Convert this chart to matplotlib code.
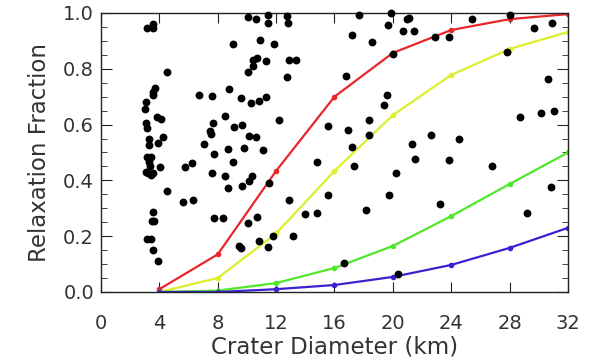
import matplotlib
matplotlib.use("Agg")
import matplotlib.pyplot as plt
from matplotlib.ticker import MultipleLocator

# model curves, sampled every 4 km
diam = [4, 8, 12, 16, 20, 24, 28, 32]
red_frac = [0.01, 0.135, 0.434, 0.70, 0.857, 0.939, 0.978, 0.996]
yellow_frac = [0.0, 0.05, 0.21, 0.434, 0.634, 0.778, 0.871, 0.932]
green_frac = [0.0, 0.005, 0.032, 0.086, 0.165, 0.272, 0.387, 0.50]
blue_frac = [0.0, 0.0, 0.01, 0.025, 0.054, 0.097, 0.158, 0.23]

# observed craters
obs_d = [3.15, 3.56, 3.56, 4.52, 3.70, 3.56, 3.56, 3.08, 3.02, 3.84, 4.11, 3.08,
         3.15, 4.25, 3.29, 3.29, 3.91, 6.72, 7.61, 7.68, 7.47, 7.54, 7.06, 7.75,
         3.15, 3.43, 3.29, 3.36, 4.04, 3.08, 3.22, 3.43, 3.56, 5.76, 6.24, 7.61,
         4.52, 5.62, 6.31, 3.56, 3.50, 3.63, 7.75, 3.15, 3.43, 3.56, 3.91,
         10.08, 10.62, 11.45, 11.45, 12.75, 12.82, 9.05, 10.90, 11.86, 10.42,
         10.69, 10.42, 11.31, 10.08, 12.89, 13.37, 12.75, 8.77, 9.60, 10.28,
         10.83, 11.31, 8.50, 9.12, 9.66, 12.20, 10.14, 10.62, 8.70, 9.80, 11.10,
         15.56, 9.05, 8.50, 8.70, 9.66, 10.14, 10.35, 11.51, 14.80, 12.89, 15.56,
         8.36, 10.08, 10.69, 13.98, 14.80, 10.83, 11.79, 13.16, 9.46, 9.60, 11.45,
         17.68, 19.88, 20.97, 21.11, 19.67, 20.70, 21.45, 17.20, 18.57, 22.89,
         23.85, 20.01, 16.79, 19.60, 19.40, 16.93, 18.37, 18.37, 17.20, 21.32,
         22.62, 21.52, 23.85, 17.34, 20.22, 19.74, 23.24, 18.16, 16.66, 20.36,
         25.43, 28.03, 29.68, 30.91, 27.83, 30.64, 28.72, 30.16, 31.05, 24.54,
         26.80, 30.84, 29.20]
obs_f = [0.946, 0.961, 0.946, 0.789, 0.731, 0.717, 0.706, 0.681, 0.656, 0.627, 0.620, 0.606,
         0.588, 0.556, 0.548, 0.527, 0.534, 0.706, 0.703, 0.606, 0.577, 0.566, 0.530, 0.495,
         0.484, 0.484, 0.466, 0.452, 0.448, 0.430, 0.427, 0.419, 0.427, 0.448, 0.462, 0.427,
         0.362, 0.323, 0.330, 0.287, 0.254, 0.254, 0.265, 0.190, 0.190, 0.151, 0.111,
         0.986, 0.978, 0.993, 0.964, 0.989, 0.964, 0.889, 0.903, 0.889, 0.832,
         0.839, 0.810, 0.828, 0.789, 0.832, 0.832, 0.771, 0.728, 0.695, 0.677,
         0.685, 0.699, 0.631, 0.591, 0.599, 0.616, 0.559, 0.556, 0.513, 0.516, 0.509,
         0.595, 0.466, 0.416, 0.373, 0.380, 0.398, 0.416, 0.391, 0.466, 0.330, 0.348,
         0.265, 0.247, 0.269, 0.280, 0.283, 0.183, 0.201, 0.201, 0.165, 0.158, 0.161,
         0.993, 1.0, 0.978, 0.982, 0.957, 0.935, 0.935, 0.921, 0.896, 0.914,
         0.914, 0.853, 0.774, 0.706, 0.670, 0.581, 0.616, 0.563, 0.520, 0.530,
         0.563, 0.477, 0.473, 0.452, 0.427, 0.348, 0.315, 0.294, 0.104, 0.065,
         0.978, 0.993, 0.946, 0.964, 0.860, 0.763, 0.627, 0.642, 0.649, 0.548,
         0.452, 0.376, 0.283]

txt = "#333333"
fig = plt.figure(figsize=(5.89, 3.62), dpi=100)
ax = fig.add_axes([0.1715, 0.1934, 0.7928, 0.7707])

ax.scatter(obs_d, obs_f, s=32, color="black", zorder=3, clip_on=False, linewidths=0)

ax.plot(diam, red_frac, color="#e8262a", lw=1.6, marker="o", ms=3, zorder=2)
ax.plot(diam, yellow_frac, color="#dcef2a", lw=1.6, marker="o", ms=3, zorder=2)
ax.plot(diam, green_frac, color="#4fe82a", lw=1.6, marker="o", ms=3, zorder=2)
ax.plot(diam, blue_frac, color="#3a22d0", lw=1.6, marker="o", ms=3, zorder=2)

ax.set_xlim(0, 32)
ax.set_ylim(0, 1.0)
ax.xaxis.set_major_locator(MultipleLocator(4))
ax.yaxis.set_major_locator(MultipleLocator(0.2))
ax.yaxis.set_minor_locator(MultipleLocator(0.05))
ax.yaxis.set_major_formatter(matplotlib.ticker.FormatStrFormatter("%.1f"))

ax.tick_params(which="both", direction="in", top=True, right=True, colors="#222222")
ax.tick_params(axis="x", which="major", length=7, pad=16, labelsize=14, labelcolor=txt)
ax.tick_params(axis="y", which="major", length=8, pad=5, labelsize=14, labelcolor=txt)
ax.tick_params(axis="y", which="minor", length=4)

for sp in ax.spines.values():
    sp.set_color("#222222")
    sp.set_linewidth(1.0)

ax.set_xlabel("Crater Diameter (km)", fontsize=16.5, color=txt, labelpad=2)
ax.set_ylabel("Relaxation Fraction", fontsize=16.5, color=txt, labelpad=9)

fig.savefig("out.png", dpi=100)
